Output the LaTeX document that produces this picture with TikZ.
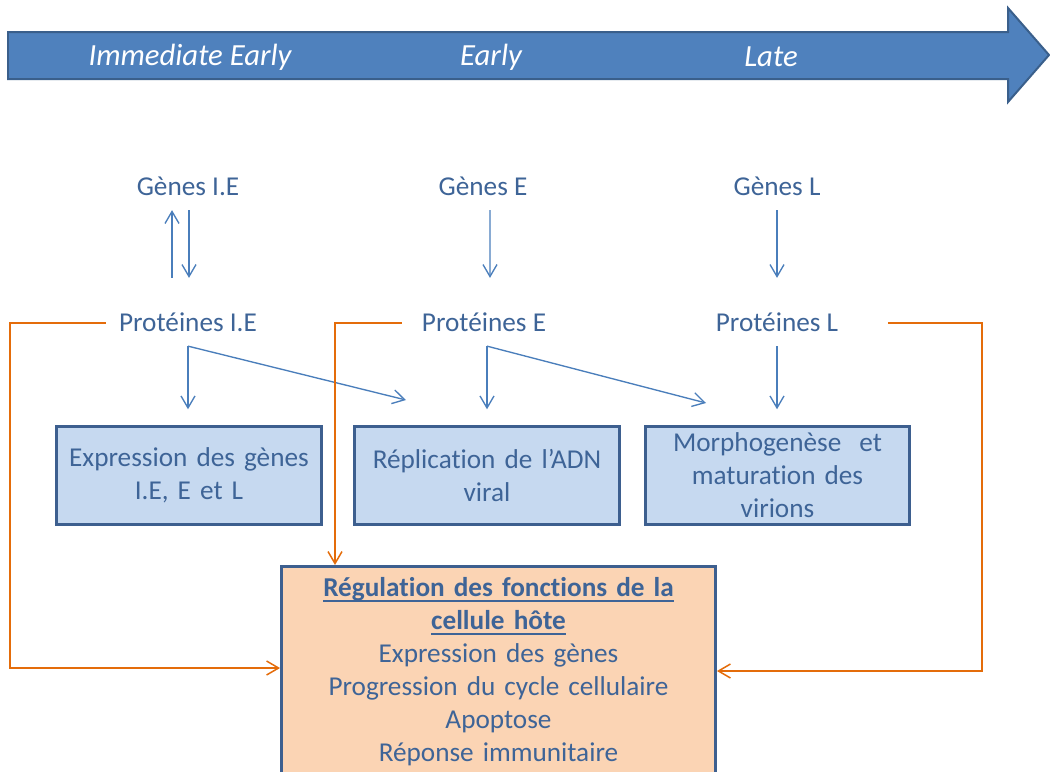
\documentclass[tikz,border=0pt]{standalone}
\usepackage{fontspec}
\setmainfont{Carlito}[Ligatures=NoCommon]
\usetikzlibrary{arrows.meta}
\definecolor{PhaseBlue}{HTML}{4F81BD}
\definecolor{PhaseEdge}{HTML}{3A5F8B}
\definecolor{InkBlue}{HTML}{3E6497}
\definecolor{FlowBlue}{HTML}{4A7EBB}
\definecolor{BoxFill}{HTML}{C6D9F0}
\definecolor{BoxEdge}{HTML}{3D5F8F}
\definecolor{HostFill}{HTML}{FBD4B4}
\definecolor{FeedOrange}{HTML}{E46C0A}
\newcommand{\ulhead}[1]{\leavevmode\setbox0=\hbox{#1}\rlap{\rule[-2.8pt]{\wd0}{1.1pt}}\box0}

\begin{document}
\begin{tikzpicture}[
  x=0.02cm,y=-0.02cm,
  phase/.style={text=white,font=\fontsize{17.5}{21}\selectfont\itshape,inner sep=0pt},
  lbl/.style={text=InkBlue,font=\fontsize{15.5}{18.8}\selectfont,inner xsep=0pt,inner ysep=0.28cm,text height=10pt,text depth=0pt},
  box/.style={draw=BoxEdge,line width=0.06cm,fill=BoxFill,minimum width=5.3cm,minimum height=1.95cm,text width=5cm,align=center,text=InkBlue,font=\fontsize{15.5}{18.8}\selectfont},
  hostbox/.style={box,fill=HostFill,minimum width=8.68cm,minimum height=0pt,text width=8cm,inner ysep=0.22cm},
  flow/.style={-{Straight Barb[length=0.24cm,width=0.28cm]},draw=FlowBlue,line width=0.027cm},
  feed/.style={-{Straight Barb[length=0.24cm,width=0.28cm]},draw=FeedOrange,line width=0.03cm}
]
  \useasboundingbox (0,0) rectangle (1050,771);
  % time axis
  \draw[draw=PhaseEdge,fill=PhaseBlue,line width=0.04cm] (8,32) -- (1008,32) -- (1008,8) -- (1049,55) -- (1008,102) -- (1008,79) -- (8,79) -- cycle;
  \node[phase] (ie) at (190,57) {Immediate Early};
  \node[phase] (early) at (491,57) {Early};
  \node[phase] (late) at (771,57) {Late};
  % genes and proteins
  \node[lbl] (gIE) at (188,187) {Gènes I.E};
  \node[lbl] (gE) at (483,187) {Gènes E};
  \node[lbl] (gL) at (777,187) {Gènes L};
  \node[lbl] (pIE) at (188,323) {Protéines I.E};
  \node[lbl] (pE) at (484,323) {Protéines E};
  \node[lbl] (pL) at (777,323) {Protéines L};
  % functions
  \node[box] (expr) at (189,475.5) {Expression des gènes\\I.E, E et L};
  \node[box] (repl) at (487,475.5) {Réplication de l’ADN\\viral};
  \node[box] (morph) at (777.5,475.5) {Morphogenèse~~et\\maturation des\\virions};
  \node[hostbox,anchor=north] (reg) at (498.5,565) {\textbf{\ulhead{Régulation des fonctions de la}}\\\textbf{\ulhead{cellule hôte}}\\Expression des gènes\\Progression du cycle cellulaire\\Apoptose\\Réponse immunitaire\rule[-1cm]{0pt}{1pt}};
  \coordinate (dIE) at (406,400);
  \coordinate (dE) at (706,403);
  \coordinate (fbL) at (10,668);
  \coordinate (fbM) at (335,324);
  \coordinate (fbR) at (982,671);
  % blue flows
  \draw[flow,shorten <=0.44cm] ([xshift=-0.32cm]pIE.north) -- ([xshift=-0.32cm]gIE.south);
  \draw[flow,shorten >=0.44cm] ([xshift=0.02cm]gIE.south) -- ([xshift=0.02cm]pIE.north);
  \draw[flow,shorten >=0.44cm] ([xshift=0.14cm]gE.south) -- ([xshift=0.12cm]pE.north);
  \draw[flow,shorten >=0.44cm] (gL.south) -- (gL.south |- pL.north);
  \draw[flow,shorten >=0.32cm] (pIE.south) -- (pIE.south |- expr.north);
  \draw[flow] (pIE.south) -- (dIE);
  \draw[flow,shorten >=0.32cm] ([xshift=0.06cm]pE.south) -- ([xshift=0.06cm]pE.south |- repl.north);
  \draw[flow] ([xshift=0.06cm]pE.south) -- (dE);
  \draw[flow,shorten >=0.32cm] (pL.south) -- (pL.south |- morph.north);
  % feedback to the host cell
  \draw[feed] ([xshift=-0.26cm]pIE.west) -| (fbL) -- (fbL -| reg.west);
  \draw[feed] ([xshift=-0.4cm]pE.west) -| (fbM |- reg.north);
  \draw[feed] ([xshift=0.99cm]pL.east) -| (fbR) -- (fbR -| reg.east);
\end{tikzpicture}
\end{document}
